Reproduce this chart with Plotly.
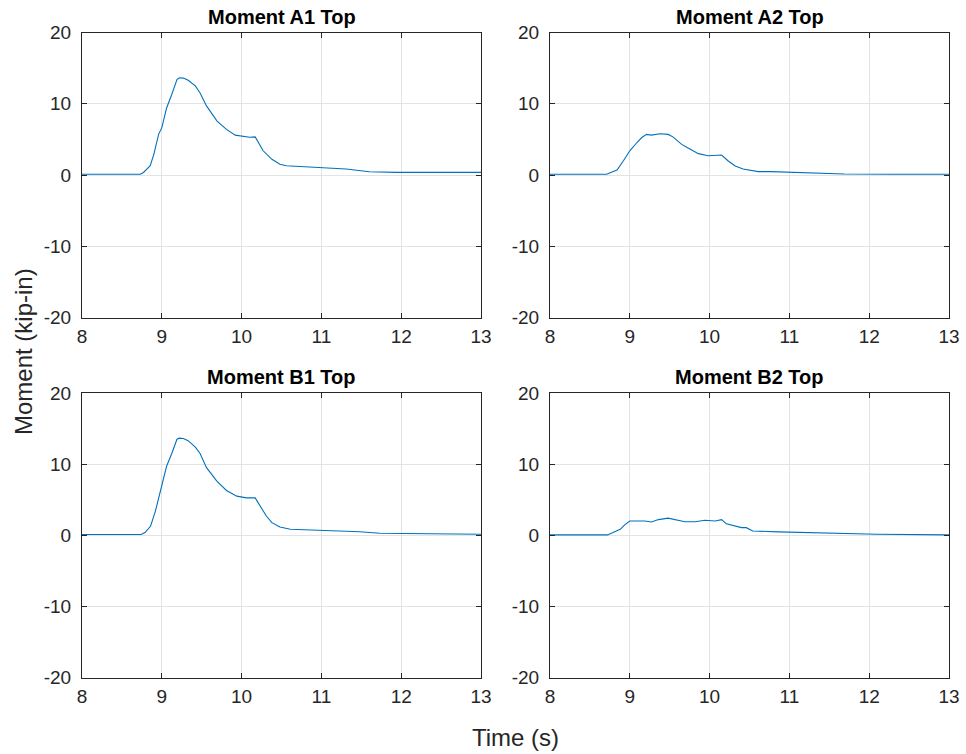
import plotly.graph_objects as go

# Time samples (s) and bending moments (kip-in) for each gauge
t_a1 = [8.0, 8.3, 8.6, 8.73, 8.77, 8.855, 8.9, 8.96, 9.0, 9.06, 9.125, 9.19, 9.22, 9.27, 9.33,
        9.42, 9.48, 9.56, 9.69, 9.81, 9.92, 10.02, 10.1, 10.17, 10.21, 10.27, 10.38, 10.48,
        10.56, 10.81, 11.02, 11.31, 11.6, 11.94, 12.5, 13.0]
m_a1 = [0.1, 0.1, 0.1, 0.1, 0.35, 1.3, 2.9, 5.7, 6.65, 9.4, 11.3, 13.4, 13.65, 13.6, 13.3,
        12.5, 11.5, 9.7, 7.6, 6.4, 5.6, 5.4, 5.3, 5.35, 4.55, 3.4, 2.2, 1.5,
        1.3, 1.15, 1.07, 0.84, 0.46, 0.37, 0.37, 0.37]

t_a2 = [8.0, 8.3, 8.6, 8.71, 8.77, 8.84, 8.92, 9.0, 9.09, 9.15, 9.21, 9.27, 9.38, 9.48, 9.54,
        9.65, 9.73, 9.86, 9.98, 10.11, 10.15, 10.23, 10.32, 10.42, 10.61, 10.77, 11.02,
        11.27, 11.69, 12.3, 13.0]
m_a2 = [0.1, 0.1, 0.1, 0.1, 0.37, 0.7, 2.0, 3.4, 4.56, 5.26, 5.7, 5.6, 5.8, 5.7, 5.35,
        4.3, 3.8, 3.0, 2.7, 2.7, 2.8, 2.0, 1.26, 0.84, 0.47, 0.47, 0.37,
        0.23, 0.14, 0.1, 0.1]

t_b1 = [8.0, 8.3, 8.6, 8.74, 8.79, 8.86, 8.92, 8.98, 9.06, 9.125, 9.19, 9.22, 9.27, 9.33, 9.42,
        9.48, 9.56, 9.69, 9.81, 9.94, 10.06, 10.17, 10.23, 10.31, 10.38, 10.48, 10.61,
        10.98, 11.23, 11.48, 11.73, 12.15, 13.0]
m_b1 = [0.1, 0.1, 0.1, 0.1, 0.37, 1.3, 3.4, 6.2, 9.7, 11.5, 13.5, 13.65, 13.6, 13.3, 12.4,
        11.5, 9.5, 7.6, 6.3, 5.5, 5.26, 5.26, 4.1, 2.7, 1.77, 1.16, 0.84,
        0.7, 0.6, 0.5, 0.28, 0.23, 0.14]

t_b2 = [8.0, 8.3, 8.6, 8.72, 8.79, 8.88, 8.94, 9.0, 9.11, 9.19, 9.27, 9.36, 9.48, 9.59, 9.69,
        9.82, 9.94, 10.07, 10.15, 10.21, 10.34, 10.4, 10.46, 10.54, 10.86, 11.27, 11.69,
        12.1, 13.0]
m_b2 = [0.05, 0.05, 0.05, 0.05, 0.37, 0.84, 1.5, 2.0, 2.0, 2.0, 1.86, 2.2, 2.4, 2.14, 1.9,
        1.9, 2.1, 2.0, 2.2, 1.6, 1.3, 1.07, 1.07, 0.6, 0.47, 0.37, 0.19,
        0.14, 0.05]

titles = ["Moment A1 Top", "Moment A2 Top", "Moment B1 Top", "Moment B2 Top"]
x_ticks = [8, 9, 10, 11, 12, 13]
y_ticks = [-20, -10, 0, 10, 20]
y_tick_labels = ["-20", "-10", "0", "10", "20"]

series = [(t_a1, m_a1), (t_a2, m_a2), (t_b1, m_b1), (t_b2, m_b2)]

W, H = 966, 754
col_px = [(82, 481), (550, 949)]
row_px = [(32.5, 317.5), (393, 677.5)]

FONT = "Liberation Sans, Arial, sans-serif"
TXT = "#262626"
LINE = "#0072BD"

fig = go.Figure()
annotations = []
for i, (t, m) in enumerate(series):
    r, c = divmod(i, 2)
    n = "" if i == 0 else str(i + 1)
    xd = [col_px[c][0] / W, col_px[c][1] / W]
    yd = [1 - row_px[r][1] / H, 1 - row_px[r][0] / H]
    fig.add_trace(go.Scatter(x=t, y=m, mode="lines", xaxis="x" + n, yaxis="y" + n,
                             line=dict(color=LINE, width=1.1), showlegend=False,
                             hoverinfo="skip"))
    axis_common = dict(
        showline=True, linecolor=TXT, linewidth=1, mirror="ticks",
        ticks="inside", ticklen=5, tickcolor=TXT, tickwidth=1,
        showgrid=True, gridcolor="#E3E3E3", gridwidth=1, automargin=False,
        zeroline=False, tickfont=dict(family=FONT, size=19, color=TXT),
    )
    fig.update_layout(**{
        "xaxis" + n: dict(domain=xd, range=[8, 13], tickvals=x_ticks,
                          anchor="y" + n, ticklabelstandoff=2, **axis_common),
        "yaxis" + n: dict(domain=yd, range=[-20, 20], tickvals=y_ticks,
                          ticktext=y_tick_labels, anchor="x" + n,
                          ticklabelstandoff=6, **axis_common),
    })
    annotations.append(dict(text="<b>" + titles[i] + "</b>", x=(xd[0] + xd[1]) / 2,
                            y=yd[1], xref="paper", yref="paper", xanchor="center",
                            yanchor="bottom", yshift=3, showarrow=False,
                            font=dict(family=FONT, size=20, color="#000000")))

annotations.append(dict(text="Time (s)", x=515 / W, y=1 - 737 / H, xref="paper", yref="paper",
                        xanchor="center", yanchor="middle", showarrow=False,
                        font=dict(family=FONT, size=24, color=TXT)))
annotations.append(dict(text="Moment (kip-in)", x=23 / W, y=1 - 352 / H, xref="paper",
                        yref="paper", xanchor="center", yanchor="middle", textangle=-90,
                        showarrow=False, font=dict(family=FONT, size=24, color=TXT)))

fig.update_layout(width=W, height=H, margin=dict(l=0, r=0, t=0, b=0),
                  paper_bgcolor="white", plot_bgcolor="white",
                  annotations=annotations)

fig.write_html("out.html")
